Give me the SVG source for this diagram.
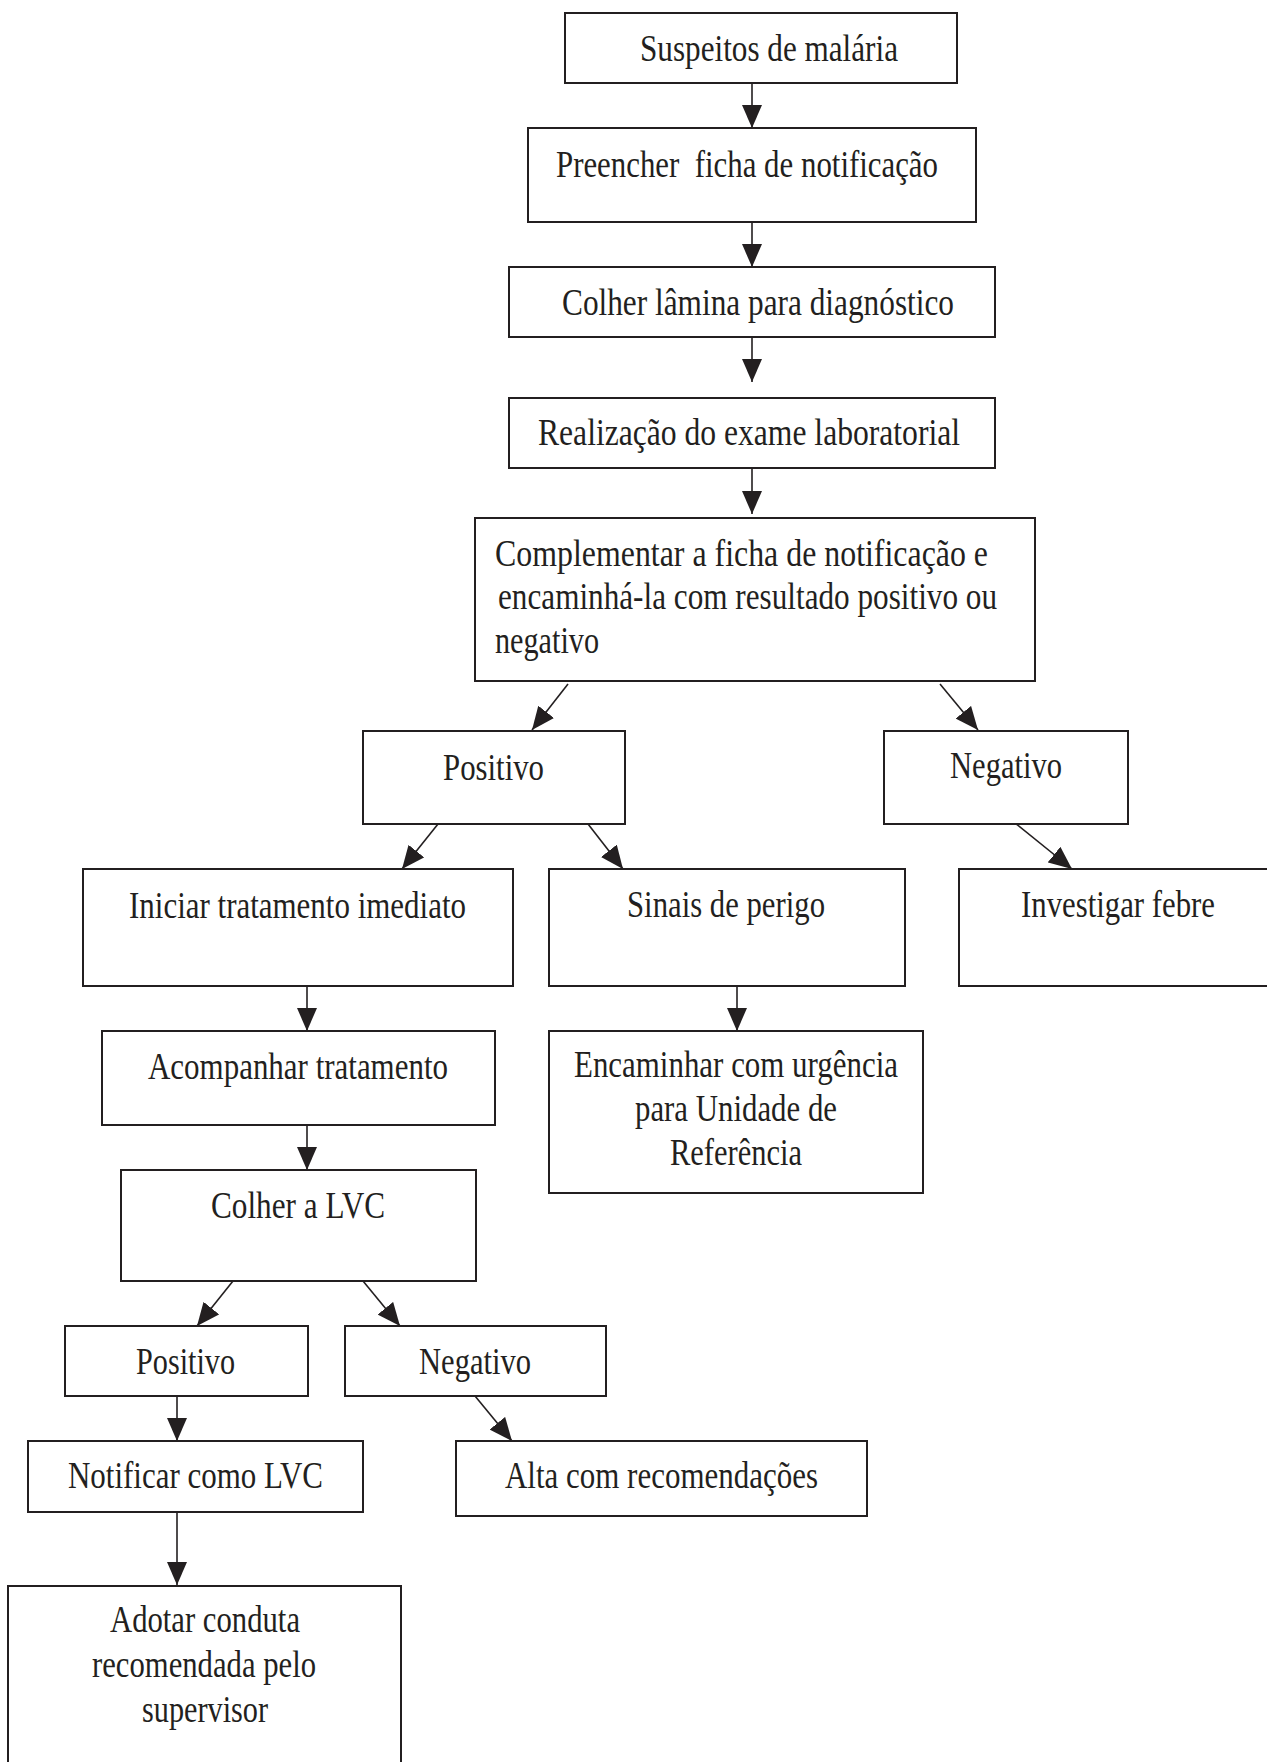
<svg xmlns="http://www.w3.org/2000/svg" width="1267" height="1762" viewBox="0 0 1267 1762">
<style>
.box{fill:#fff;stroke:#231f20;stroke-width:2}
.t{font-family:"Liberation Serif","Times New Roman",serif;font-size:37px;fill:#231f20}
.c{stroke:#231f20;stroke-width:1.6;fill:none;marker-end:url(#ah)}
</style>
<defs>
<marker id="ah" markerUnits="userSpaceOnUse" markerWidth="24" markerHeight="20" refX="23" refY="10" orient="auto" viewBox="0 0 24 20">
<path d="M0,0 L23,10 L0,20 z" fill="#231f20"/>
</marker>
</defs>
<rect width="1267" height="1762" fill="#fff"/>
<g id="connectors">
<line class="c" x1="752" y1="83" x2="752" y2="128"/>
<line class="c" x1="752" y1="222" x2="752" y2="267"/>
<line class="c" x1="752" y1="337" x2="752" y2="382"/>
<line class="c" x1="752" y1="468" x2="752" y2="514"/>
<line class="c" x1="568" y1="684" x2="532" y2="730"/>
<line class="c" x1="940" y1="684" x2="978" y2="730"/>
<line class="c" x1="438" y1="824" x2="402" y2="869"/>
<line class="c" x1="588" y1="824" x2="623" y2="869"/>
<line class="c" x1="1015" y1="823" x2="1072" y2="869"/>
<line class="c" x1="307" y1="986" x2="307" y2="1031"/>
<line class="c" x1="737" y1="986" x2="737" y2="1031"/>
<line class="c" x1="307" y1="1125" x2="307" y2="1170"/>
<line class="c" x1="233" y1="1281" x2="197" y2="1326"/>
<line class="c" x1="363" y1="1281" x2="400" y2="1326"/>
<line class="c" x1="177" y1="1396" x2="177" y2="1441"/>
<line class="c" x1="475" y1="1396" x2="512" y2="1441"/>
<line class="c" x1="177" y1="1512" x2="177" y2="1585"/>
</g>
<g id="n1"><rect class="box" x="565" y="13" width="392" height="70"/><text class="t" x="640" y="61" textLength="258" lengthAdjust="spacingAndGlyphs">Suspeitos de malária</text></g>
<g id="n2"><rect class="box" x="528" y="128" width="448" height="94"/><text class="t" x="556" y="177" textLength="382" lengthAdjust="spacingAndGlyphs" xml:space="preserve">Preencher  ficha de notificação</text></g>
<g id="n3"><rect class="box" x="509" y="267" width="486" height="70"/><text class="t" x="562" y="315" textLength="392" lengthAdjust="spacingAndGlyphs">Colher lâmina para diagnóstico</text></g>
<g id="n4"><rect class="box" x="509" y="398" width="486" height="70"/><text class="t" x="538" y="445" textLength="422" lengthAdjust="spacingAndGlyphs">Realização do exame laboratorial</text></g>
<g id="n5"><rect class="box" x="475" y="518" width="560" height="163"/>
<text class="t" x="495" y="566" textLength="493" lengthAdjust="spacingAndGlyphs">Complementar a ficha de notificação e</text>
<text class="t" x="498" y="609" textLength="499" lengthAdjust="spacingAndGlyphs">encaminhá-la com resultado positivo ou</text>
<text class="t" x="495" y="653" textLength="104" lengthAdjust="spacingAndGlyphs">negativo</text></g>
<g id="n6"><rect class="box" x="363" y="731" width="262" height="93"/><text class="t" x="443" y="780" textLength="101" lengthAdjust="spacingAndGlyphs">Positivo</text></g>
<g id="n7"><rect class="box" x="884" y="731" width="244" height="93"/><text class="t" x="950" y="778" textLength="112" lengthAdjust="spacingAndGlyphs">Negativo</text></g>
<g id="n8"><rect class="box" x="83" y="869" width="430" height="117"/><text class="t" x="129" y="918" textLength="337" lengthAdjust="spacingAndGlyphs">Iniciar tratamento imediato</text></g>
<g id="n9"><rect class="box" x="549" y="869" width="356" height="117"/><text class="t" x="627" y="917" textLength="198" lengthAdjust="spacingAndGlyphs">Sinais de perigo</text></g>
<g id="n10"><rect class="box" x="959" y="869" width="330" height="117"/><text class="t" x="1021" y="917" textLength="194" lengthAdjust="spacingAndGlyphs">Investigar febre</text></g>
<g id="n11"><rect class="box" x="102" y="1031" width="393" height="94"/><text class="t" x="148" y="1079" textLength="300" lengthAdjust="spacingAndGlyphs">Acompanhar tratamento</text></g>
<g id="n12"><rect class="box" x="549" y="1031" width="374" height="162"/>
<text class="t" x="574" y="1077" textLength="324" lengthAdjust="spacingAndGlyphs">Encaminhar com urgência</text>
<text class="t" x="635" y="1121" textLength="202" lengthAdjust="spacingAndGlyphs">para Unidade de</text>
<text class="t" x="670" y="1165" textLength="132" lengthAdjust="spacingAndGlyphs">Referência</text></g>
<g id="n13"><rect class="box" x="121" y="1170" width="355" height="111"/><text class="t" x="211" y="1218" textLength="174" lengthAdjust="spacingAndGlyphs">Colher a LVC</text></g>
<g id="n14"><rect class="box" x="65" y="1326" width="243" height="70"/><text class="t" x="136" y="1374" textLength="99" lengthAdjust="spacingAndGlyphs">Positivo</text></g>
<g id="n15"><rect class="box" x="345" y="1326" width="261" height="70"/><text class="t" x="419" y="1374" textLength="112" lengthAdjust="spacingAndGlyphs">Negativo</text></g>
<g id="n16"><rect class="box" x="28" y="1441" width="335" height="71"/><text class="t" x="68" y="1488" textLength="255" lengthAdjust="spacingAndGlyphs">Notificar como LVC</text></g>
<g id="n17"><rect class="box" x="456" y="1441" width="411" height="75"/><text class="t" x="505" y="1488" textLength="313" lengthAdjust="spacingAndGlyphs">Alta com recomendações</text></g>
<g id="n18"><rect class="box" x="8" y="1586" width="393" height="200"/>
<text class="t" x="110" y="1632" textLength="190" lengthAdjust="spacingAndGlyphs">Adotar conduta</text>
<text class="t" x="92" y="1677" textLength="224" lengthAdjust="spacingAndGlyphs">recomendada pelo</text>
<text class="t" x="142" y="1722" textLength="126" lengthAdjust="spacingAndGlyphs">supervisor</text></g>
</svg>
